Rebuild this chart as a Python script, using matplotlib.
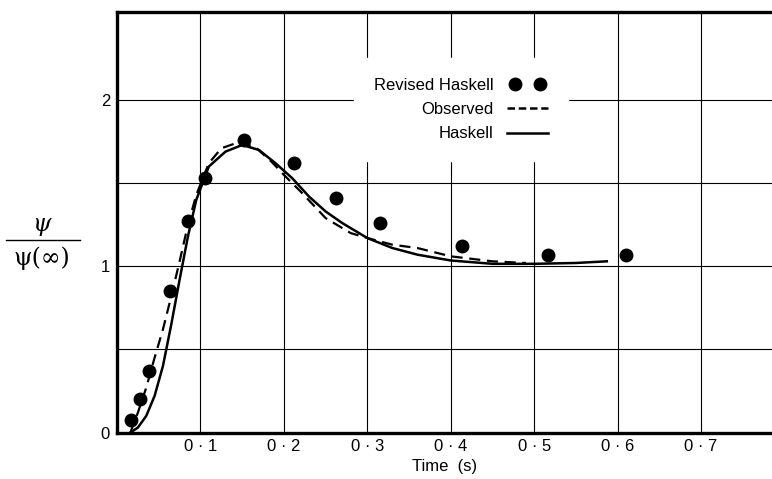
import matplotlib.pyplot as plt
from matplotlib.lines import Line2D
from matplotlib.legend_handler import HandlerLine2D

# Revised Haskell (points)
revised_t = [0.017, 0.028, 0.038, 0.064, 0.085, 0.105, 0.152, 0.212, 0.262, 0.315, 0.414, 0.517, 0.610]
revised_y = [0.075, 0.20, 0.37, 0.85, 1.27, 1.53, 1.76, 1.62, 1.41, 1.26, 1.12, 1.07, 1.07]

# Haskell (solid)
haskell_t = [0.016, 0.025, 0.035, 0.045, 0.055, 0.065, 0.075, 0.085, 0.095, 0.11, 0.13,
             0.15, 0.17, 0.19, 0.21, 0.23, 0.25, 0.27, 0.30, 0.33, 0.36, 0.40, 0.45,
             0.50, 0.55, 0.587]
haskell_y = [0.0, 0.03, 0.10, 0.22, 0.40, 0.65, 0.92, 1.18, 1.40, 1.60, 1.69,
             1.73, 1.70, 1.62, 1.53, 1.42, 1.33, 1.26, 1.17, 1.11, 1.07, 1.035, 1.015,
             1.015, 1.02, 1.03]

# Observed (dashed)
observed_t = [0.016, 0.025, 0.035, 0.045, 0.055, 0.065, 0.075, 0.085, 0.095, 0.11, 0.125,
              0.145, 0.165, 0.185, 0.20, 0.22, 0.25, 0.28, 0.30, 0.33, 0.36, 0.40, 0.45, 0.49]
observed_y = [0.0, 0.12, 0.27, 0.45, 0.62, 0.82, 1.03, 1.25, 1.43, 1.62, 1.71,
              1.745, 1.72, 1.63, 1.55, 1.45, 1.29, 1.20, 1.17, 1.13, 1.11, 1.06, 1.03, 1.02]

xticks = [0.1, 0.2, 0.3, 0.4, 0.5, 0.6, 0.7]
xticklabels = ['0 · 1', '0 · 2', '0 · 3', '0 · 4', '0 · 5', '0 · 6', '0 · 7']
yticks = [0, 1, 2]
ygrid = [0.5, 1.0, 1.5, 2.0]

plt.rcParams['font.family'] = ['Liberation Sans', 'DejaVu Sans']

fig = plt.figure(figsize=(7.72, 4.79), dpi=100)
ax = fig.add_axes([0.1516, 0.097, 0.8484, 0.878])

for x in xticks:
    ax.axvline(x, color='black', lw=0.8, zorder=1)
for y in ygrid:
    ax.axhline(y, color='black', lw=0.8, zorder=1)

ax.plot(haskell_t, haskell_y, color='black', lw=1.8, zorder=3, label='Haskell')
ax.plot(observed_t, observed_y, color='black', lw=1.6, ls=(0, (5, 3)), zorder=3, label='Observed')
ax.plot(revised_t, revised_y, 'o', color='black', ms=9, zorder=4, label='Revised Haskell')

ax.set_xlim(0, 0.785)
ax.set_ylim(0, 2.53)
ax.set_xticks(xticks)
ax.set_xticklabels(xticklabels, fontsize=12)
ax.set_yticks(yticks)
ax.set_yticklabels(['0', '1', '2'], fontsize=12)
ax.tick_params(length=0, pad=5)
ax.set_xlabel('Time  (s)', fontsize=12, labelpad=3)

for s in ['left', 'bottom', 'top']:
    ax.spines[s].set_linewidth(2.4)
ax.spines['right'].set_visible(False)

h_dots = Line2D([], [], ls='none', marker='o', color='black', ms=9)
h_dash = Line2D([], [], color='black', lw=1.8, ls=(0, (3, 1.5)))
h_line = Line2D([], [], color='black', lw=1.8)
leg = ax.legend([h_dots, h_dash, h_line], ['Revised Haskell', 'Observed', 'Haskell'],
                numpoints=2, markerfirst=False, alignment='right', frameon=True, fontsize=12,
                loc='upper right', bbox_to_anchor=(0.702, 0.91), borderpad=1.2,
                handlelength=2.5, handletextpad=0.8, labelspacing=0.55,
                handler_map={h_dots: HandlerLine2D(marker_pad=0.5),
                             h_dash: HandlerLine2D(marker_pad=0),
                             h_line: HandlerLine2D(marker_pad=0)})
leg.get_frame().set_facecolor('white')
leg.get_frame().set_edgecolor('white')
leg.get_frame().set_alpha(1)
leg.set_zorder(5)

# y label as a fraction
fig.text(42 / 772, 1 - 225 / 479, 'ψ', fontsize=17, style='italic', ha='center', va='center',
         family=['DejaVu Serif'])
fig.add_artist(Line2D([6 / 772, 80 / 772], [1 - 240 / 479, 1 - 240 / 479], color='black', lw=1))
fig.text(42 / 772, 1 - 258 / 479, 'ψ(∞)', fontsize=17, ha='center', va='center',
         family=['DejaVu Serif'])

fig.savefig('out.png', dpi=100)
